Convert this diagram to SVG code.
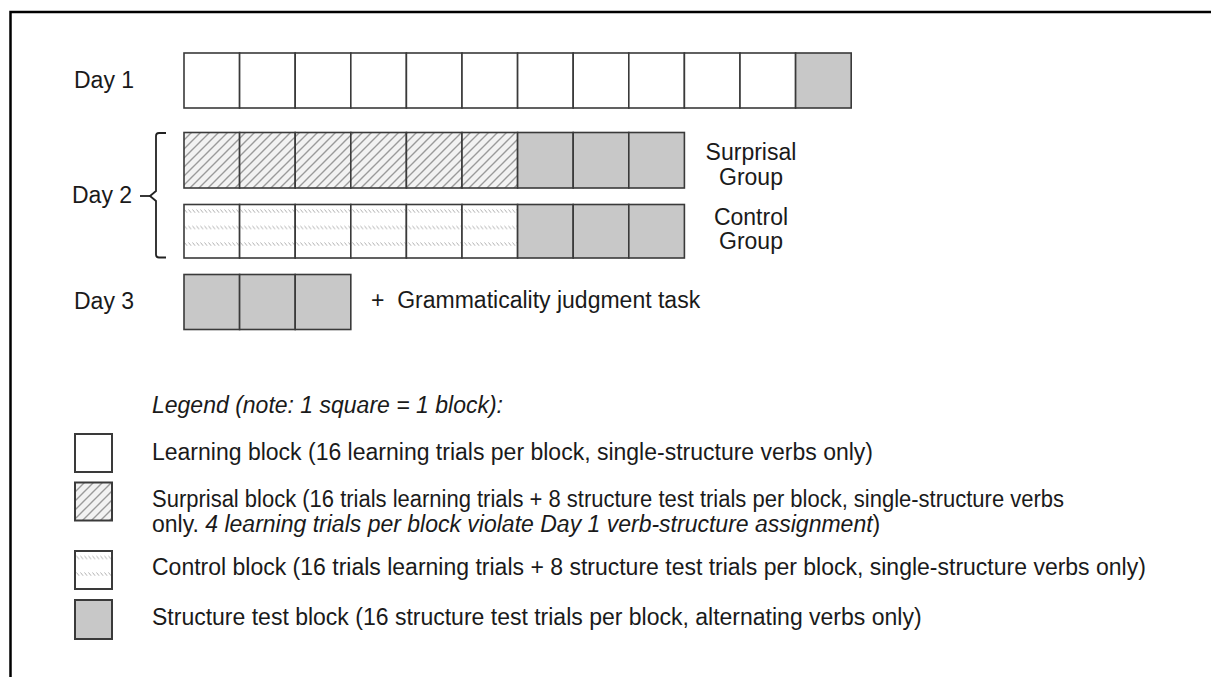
<svg xmlns="http://www.w3.org/2000/svg" width="1211" height="677" viewBox="0 0 1211 677">
<style>
text{font-family:"Liberation Sans",Arial,sans-serif;font-size:23px;fill:#1a1a1a}
.it{font-style:italic}
.sq{stroke:#3a3a3a;stroke-width:1.6}
.w{fill:#fff}
.g{fill:#c8c8c8}
.h{fill:url(#hatch)}
.c{fill:url(#ctrl)}
.lg{stroke:#3a3a3a;stroke-width:2}
</style>
<defs>
<pattern id="hatch" patternUnits="userSpaceOnUse" width="9" height="9">
<rect width="9" height="9" fill="#f2f2f2"/>
<path d="M-1,1 l2,-2 M0,9 l9,-9 M8,10 l2,-2" stroke="#9a9a9a" stroke-width="1.4"/>
</pattern>
<pattern id="ctrl" patternUnits="userSpaceOnUse" x="0" y="11" width="4" height="16.5">
<rect width="4" height="16.5" fill="#fff"/>
<path d="M0.5,0.5 l2.6,3.2" stroke="#a8a8a8" stroke-width="0.9"/>
</pattern>
</defs>
<rect width="1211" height="677" fill="#fff"/>
<g id="frame"><path d="M10.5,677 V12 H1211" fill="none" stroke="#000" stroke-width="2.5"/></g>

<g id="day1">
<text x="74" y="88">Day 1</text>
<g class="sq">
<rect class="w" x="184" y="53" width="55.6" height="55"/>
<rect class="w" x="239.6" y="53" width="55.6" height="55"/>
<rect class="w" x="295.2" y="53" width="55.6" height="55"/>
<rect class="w" x="350.8" y="53" width="55.6" height="55"/>
<rect class="w" x="406.4" y="53" width="55.6" height="55"/>
<rect class="w" x="462" y="53" width="55.6" height="55"/>
<rect class="w" x="517.6" y="53" width="55.6" height="55"/>
<rect class="w" x="573.2" y="53" width="55.6" height="55"/>
<rect class="w" x="628.8" y="53" width="55.6" height="55"/>
<rect class="w" x="684.4" y="53" width="55.6" height="55"/>
<rect class="w" x="740" y="53" width="55.6" height="55"/>
<rect class="g" x="795.6" y="53" width="55.6" height="55"/>
</g>
</g>

<g id="day2">
<text x="72" y="203">Day 2</text>
</g>

<g id="surprisal-group">
<g class="sq">
<rect class="h" x="184" y="132.5" width="55.6" height="55.5"/>
<rect class="h" x="239.6" y="132.5" width="55.6" height="55.5"/>
<rect class="h" x="295.2" y="132.5" width="55.6" height="55.5"/>
<rect class="h" x="350.8" y="132.5" width="55.6" height="55.5"/>
<rect class="h" x="406.4" y="132.5" width="55.6" height="55.5"/>
<rect class="h" x="462" y="132.5" width="55.6" height="55.5"/>
<rect class="g" x="517.6" y="132.5" width="55.6" height="55.5"/>
<rect class="g" x="573.2" y="132.5" width="55.6" height="55.5"/>
<rect class="g" x="628.8" y="132.5" width="55.6" height="55.5"/>
</g>
<text x="751" y="160" text-anchor="middle">Surprisal</text>
<text x="751" y="185" text-anchor="middle">Group</text>
</g>

<g id="control-group">
<g class="sq">
<rect class="c" x="184" y="204.5" width="55.6" height="53.5"/>
<rect class="c" x="239.6" y="204.5" width="55.6" height="53.5"/>
<rect class="c" x="295.2" y="204.5" width="55.6" height="53.5"/>
<rect class="c" x="350.8" y="204.5" width="55.6" height="53.5"/>
<rect class="c" x="406.4" y="204.5" width="55.6" height="53.5"/>
<rect class="c" x="462" y="204.5" width="55.6" height="53.5"/>
<rect class="g" x="517.6" y="204.5" width="55.6" height="53.5"/>
<rect class="g" x="573.2" y="204.5" width="55.6" height="53.5"/>
<rect class="g" x="628.8" y="204.5" width="55.6" height="53.5"/>
</g>
<text x="751" y="225" text-anchor="middle">Control</text>
<text x="751" y="249" text-anchor="middle">Group</text>
</g>

<g id="day3">
<text x="74" y="309">Day 3</text>
<g class="sq">
<rect class="g" x="184" y="274.5" width="55.6" height="55"/>
<rect class="g" x="239.6" y="274.5" width="55.6" height="55"/>
<rect class="g" x="295.2" y="274.5" width="55.6" height="55"/>
</g>
<text x="371" y="308" xml:space="preserve">+  Grammaticality judgment task</text>
</g>

<g id="connectors">
<path d="M166,133 H159 Q156,133 156,136 V191 L150,196 L156,201 V254.5 Q156,257.5 159,257.5 H166" fill="none" stroke="#222" stroke-width="1.8"/>
<path d="M140,196 H150" stroke="#222" stroke-width="1.8"/>
</g>

<g id="legend">
<text class="it" x="152" y="413">Legend (note: 1 square = 1 block):</text>
<g id="legend-learning">
<rect class="lg w" x="75" y="434" width="37" height="38"/>
<text x="152" y="460">Learning block (16 learning trials per block, single-structure verbs only)</text>
</g>
<g id="legend-surprisal">
<rect class="lg h" x="75" y="482.5" width="37" height="38"/>
<text x="152" y="507" textLength="912" lengthAdjust="spacingAndGlyphs">Surprisal block (16 trials learning trials + 8 structure test trials per block, single-structure verbs</text>
<text x="152" y="532">only. <tspan class="it">4 learning trials per block violate Day 1 verb-structure assignment</tspan>)</text>
</g>
<g id="legend-control">
<rect class="lg c" x="75" y="551" width="37" height="38"/>
<text x="152" y="575">Control block (16 trials learning trials + 8 structure test trials per block, single-structure verbs only)</text>
</g>
<g id="legend-structure">
<rect class="lg g" x="75" y="600" width="37" height="39"/>
<text x="152" y="625">Structure test block (16 structure test trials per block, alternating verbs only)</text>
</g>
</g>
</svg>
